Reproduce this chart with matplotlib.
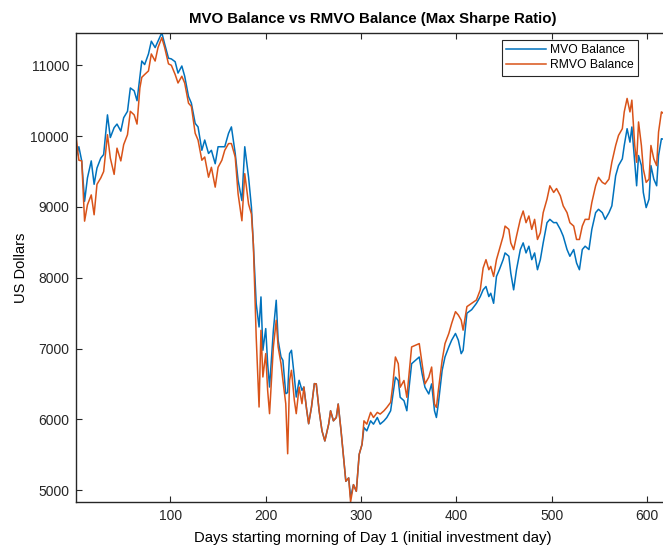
import matplotlib
matplotlib.use('Agg')
import matplotlib.pyplot as plt

# MATLAB-like look
plt.rcParams.update({
    'font.family': ['Liberation Sans', 'DejaVu Sans'],
    'font.size': 10,
    'axes.linewidth': 1.0,
    'axes.edgecolor': '0.15',
    'xtick.color': '0.15',
    'ytick.color': '0.15',
    'xtick.labelcolor': '0.15',
    'ytick.labelcolor': '0.15',
})

# day index
days = [1, 4, 7, 10, 13, 17, 20, 23, 27, 30, 34, 37, 41, 44, 48, 51, 55, 58, 62, 65,
        68, 70, 73, 77, 80, 84, 87, 91, 94, 98, 101, 105, 108, 112, 115, 119, 122, 126, 129, 133,
        136, 140, 143, 147, 150, 154, 157, 161, 164, 168, 171, 175, 178, 182, 185, 187, 190, 193, 195, 197,
        200, 202, 204, 208, 211, 213, 216, 218, 221, 223, 225, 227, 230, 232, 235, 238, 240, 243, 245, 248,
        251, 253, 256, 259, 262, 266, 268, 271, 274, 276, 279, 282, 284, 287, 289, 292, 295, 298, 301, 303,
        306, 310, 313, 317, 320, 324, 327, 331, 333, 336, 339, 341, 345, 348, 350, 353, 357, 361, 364, 367,
        371, 374, 377, 379, 381, 385, 388, 392, 395, 399, 402, 405, 407, 411, 416, 421, 425, 428, 431, 434,
        436, 439, 442, 445, 449, 451, 455, 457, 460, 463, 467, 470, 473, 476, 479, 482, 485, 488, 491, 495,
        498, 502, 505, 509, 512, 516, 519, 523, 526, 529, 532, 535, 539, 542, 546, 549, 553, 556, 560, 563,
        567, 570, 574, 576, 579, 582, 584, 587, 589, 591, 594, 596, 599, 602, 604, 607, 610, 612, 615, 619]

mvo_balance = [9700, 9850, 9650, 9080, 9410, 9650, 9320, 9550, 9690, 9740, 10300, 9980, 10120, 10170, 10070, 10260, 10350, 10680, 10640, 10500,
               10830, 11060, 11010, 11160, 11340, 11250, 11340, 11460, 11300, 11100, 11090, 11050, 10890, 10990, 10845, 10560, 10465, 10180, 10130, 9800,
               9945, 9755, 9800, 9610, 9850, 9850, 9850, 10040, 10130, 9755, 9375, 9090, 9850, 9420, 8995, 8475, 7636, 7306, 7730, 6977,
               7283, 6788, 6458, 7259, 7683, 7118, 6883, 6835, 6364, 6380, 6930, 6977, 6600, 6317, 6553, 6411, 6458, 6129, 5940, 6176,
               6506, 6502, 6123, 5839, 5697, 5934, 6123, 5981, 6028, 6218, 5839, 5412, 5128, 5175, 4900, 5080, 4986, 5507, 5649, 5886,
               5839, 5981, 5934, 6028, 5934, 5981, 6028, 6123, 6313, 6597, 6550, 6313, 6265, 6123, 6408, 6787, 6834, 6882, 6645, 6455,
               6360, 6502, 6123, 6028, 6218, 6692, 6882, 7024, 7119, 7214, 7119, 6929, 6976, 7500, 7550, 7640, 7735, 7830, 7877, 7735,
               7782, 7640, 8019, 8114, 8256, 8351, 8304, 8067, 7830, 8114, 8398, 8493, 8351, 8446, 8256, 8351, 8114, 8256, 8493, 8778,
               8825, 8778, 8780, 8683, 8588, 8399, 8304, 8399, 8209, 8114, 8399, 8446, 8399, 8683, 8920, 8967, 8920, 8825, 8920, 9015,
               9441, 9584, 9679, 9868, 10105, 9915, 10129, 9631, 9299, 9726, 9584, 9205, 8991, 9110, 9584, 9394, 9299, 9726, 9963, 9950]

rmvo_balance = [10000, 9660, 9650, 8800, 9030, 9170, 8890, 9320, 9410, 9500, 10020, 9690, 9460, 9830, 9650, 9880, 10020, 10350, 10300, 10170,
                10680, 10830, 10870, 10920, 11160, 11060, 11250, 11390, 11250, 11020, 11000, 10870, 10750, 10845, 10750, 10465, 10420, 10040, 9945, 9660,
                9705, 9420, 9560, 9280, 9560, 9660, 9800, 9895, 9895, 9705, 9185, 8805, 9470, 9040, 8900, 8475, 7165, 6176, 7259, 6600,
                6930, 6411, 6082, 7024, 7400, 7024, 6788, 6553, 6223, 5516, 6553, 6694, 6270, 6082, 6458, 6223, 6458, 6129, 5940, 6176,
                6506, 6502, 6123, 5839, 5697, 5934, 6123, 5981, 6028, 6218, 5839, 5412, 5128, 5175, 4835, 5080, 4986, 5507, 5649, 5981,
                5934, 6100, 6028, 6100, 6076, 6123, 6170, 6242, 6455, 6882, 6787, 6455, 6550, 6313, 6597, 7024, 7048, 7071, 6787, 6502,
                6597, 6740, 6218, 6170, 6408, 6834, 7071, 7214, 7356, 7522, 7474, 7403, 7261, 7593, 7640, 7687, 7830, 8138, 8256, 8114,
                8161, 8019, 8256, 8398, 8588, 8730, 8683, 8493, 8398, 8588, 8825, 8943, 8778, 8873, 8683, 8825, 8541, 8635, 8920, 9110,
                9299, 9205, 9260, 9157, 9015, 8920, 8778, 8730, 8541, 8541, 8730, 8825, 8825, 9062, 9299, 9418, 9347, 9323, 9394, 9631,
                9868, 10010, 10105, 10342, 10532, 10342, 10508, 9868, 9631, 10200, 9868, 9536, 9347, 9394, 9868, 9679, 9584, 10058, 10342, 10300]

fig = plt.figure(figsize=(6.63, 5.48), dpi=100)
# axes runs a little past the right edge, like the cropped original
ax = fig.add_axes([76 / 663, 1 - 502 / 548, 594 / 663, 469.3 / 548])

ax.plot(days, mvo_balance, color='#0072BD', linewidth=1.1, label='MVO Balance')
ax.plot(days, rmvo_balance, color='#D95319', linewidth=1.1, label='RMVO Balance')

ax.set_xlim(1, 624)
ax.set_ylim(min(min(mvo_balance), min(rmvo_balance)), max(max(mvo_balance), max(rmvo_balance)))
ax.set_xticks([100, 200, 300, 400, 500, 600])
ax.set_yticks([5000, 6000, 7000, 8000, 9000, 10000, 11000])
ax.tick_params(direction='in', length=4, width=0.8, top=True, right=True, labelsize=10, pad=5)

ax.set_title('MVO Balance vs RMVO Balance (Max Sharpe Ratio)', fontsize=10.8, fontweight='bold', pad=7)
ax.set_xlabel('Days starting morning of Day 1 (initial investment day)', fontsize=10.7, labelpad=6)
ax.set_ylabel('US Dollars', fontsize=10.5, labelpad=2)

leg = ax.legend(loc='upper right', bbox_to_anchor=(0.946, 0.984), borderaxespad=0,
                fontsize=8.7, handlelength=3.3, handletextpad=0.3, borderpad=0.35,
                labelspacing=0.25, fancybox=False, framealpha=1)
leg.get_frame().set_edgecolor('0.15')
leg.get_frame().set_linewidth(0.8)

plt.savefig('out.png', dpi=100)
plt.close()
